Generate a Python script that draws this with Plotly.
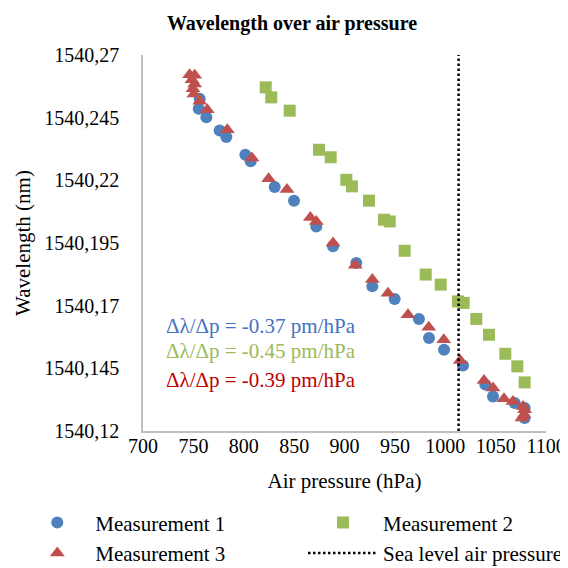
import plotly.graph_objects as go

# Measurement 1 (blue circles)
m1_pressure = [756.3, 755.3, 762.9, 776.1, 782.7, 801.6, 806.9, 830.7, 849.9, 872.0, 888.6, 911.7,
               927.6, 949.8, 973.9, 983.9, 998.8, 1017.6, 1039.8, 1047.4, 1068.9, 1078.8, 1078.8]
m1_wavelength = [1540.2525, 1540.2486, 1540.2452, 1540.2399, 1540.2373, 1540.2302, 1540.2276, 1540.2173,
                 1540.2119, 1540.2016, 1540.1937, 1540.1870, 1540.1777, 1540.1727, 1540.1647, 1540.1571,
                 1540.1524, 1540.1461, 1540.1385, 1540.1338, 1540.1312, 1540.1292, 1540.1252]

# Measurement 2 (green squares)
m2_pressure = [821.8, 827.3, 845.6, 874.7, 886.3, 901.8, 907.4, 924.3, 939.2, 944.9, 959.7, 980.6,
               995.5, 1012.7, 1018.3, 1030.8, 1043.4, 1059.6, 1071.5, 1078.8]
m2_wavelength = [1540.2571, 1540.2531, 1540.2478, 1540.2322, 1540.2292, 1540.2202, 1540.2176, 1540.2119,
                 1540.2043, 1540.2036, 1540.1919, 1540.1824, 1540.1784, 1540.1717, 1540.1711, 1540.1647,
                 1540.1584, 1540.1508, 1540.1458, 1540.1394]

# Measurement 3 (red triangles)
m3_pressure = [746.3, 751.3, 748.6, 751.3, 749.6, 750.6, 756.3, 763.8, 783.7, 808.2, 824.7, 842.9,
               866.1, 872.0, 888.6, 910.7, 927.6, 943.2, 963.0, 983.6, 998.5, 1014.9, 1038.5, 1047.4,
               1058.3, 1067.2, 1077.2, 1078.8, 1078.2, 1076.2]
m3_wavelength = [1540.2621, 1540.2619, 1540.2601, 1540.2584, 1540.2565, 1540.2544, 1540.2515, 1540.2482,
                 1540.2402, 1540.2289, 1540.2206, 1540.2163, 1540.2052, 1540.2036, 1540.1950, 1540.1861,
                 1540.1804, 1540.1750, 1540.1664, 1540.1614, 1540.1564, 1540.1481, 1540.1401, 1540.1372,
                 1540.1329, 1540.1318, 1540.1298, 1540.1285, 1540.1265, 1540.1252]

sea_level_pressure = 1013.25

x_ticks = [700, 750, 800, 850, 900, 950, 1000, 1050, 1100]
y_ticks = [1540.12, 1540.145, 1540.17, 1540.195, 1540.22, 1540.245, 1540.27]
y_tick_labels = ["1540,12", "1540,145", "1540,17", "1540,195", "1540,22", "1540,245", "1540,27"]

slope_labels = ["Δλ/Δp = -0.37 pm/hPa", "Δλ/Δp = -0.45 pm/hPa", "Δλ/Δp = -0.39 pm/hPa"]
slope_colors = ["#4472C4", "#9BBB59", "#C00000"]
slope_y = [1540.1619, 1540.1519, 1540.1403]

FONT = "Liberation Serif, Times New Roman, serif"
BLUE, GREEN, RED = "#4F81BD", "#9BBB59", "#C0504D"

fig = go.Figure()
fig.add_trace(go.Scatter(x=m1_pressure, y=m1_wavelength, mode="markers", name="Measurement 1",
                         marker=dict(symbol="circle", size=12, color=BLUE), legend="legend"))
fig.add_trace(go.Scatter(x=m2_pressure, y=m2_wavelength, mode="markers", name="Measurement 2",
                         marker=dict(symbol="square", size=12, color=GREEN), legend="legend2"))
fig.add_trace(go.Scatter(x=m3_pressure, y=m3_wavelength, mode="markers", name="Measurement 3",
                         marker=dict(symbol="triangle-up", size=13, color=RED), legend="legend"))
fig.add_trace(go.Scatter(x=[sea_level_pressure, sea_level_pressure], y=[y_ticks[0], y_ticks[-1]],
                         mode="lines", name="Sea level air pressure",
                         line=dict(color="black", width=2.5, dash="2.5px,2.5px"), legend="legend2"))

for txt, col, yy in zip(slope_labels, slope_colors, slope_y):
    fig.add_annotation(x=721, y=yy, xref="x", yref="y", text=txt, showarrow=False,
                       xanchor="left", yanchor="middle", font=dict(family=FONT, size=21, color=col))

fig.update_layout(
    width=568, height=568,
    margin=dict(l=135, r=30, t=47, b=145, autoexpand=False),
    paper_bgcolor="white", plot_bgcolor="white",
    font=dict(family=FONT, size=20, color="black"),
    title=dict(text="<b>Wavelength over air pressure</b>", x=0.5, xanchor="center",
               y=1 - 15 / 568, yanchor="middle", font=dict(family=FONT, size=20, color="black")),
    xaxis=dict(range=[700, 1100], tickvals=x_ticks, showgrid=False, zeroline=False,
               showline=True, linecolor="#BFBFBF", linewidth=1.5, ticks="",
               ticklabelstandoff=-4, tickfont=dict(family=FONT, size=20, color="black"),
               title=dict(text="Air pressure (hPa)", standoff=18,
                          font=dict(family=FONT, size=21, color="black"))),
    yaxis=dict(range=[1540.12, 1540.27], tickvals=y_ticks, ticktext=y_tick_labels,
               showgrid=False, zeroline=False,
               showline=True, linecolor="#BFBFBF", linewidth=1.5, ticks="",
               ticklabelstandoff=18, tickfont=dict(family=FONT, size=20, color="black"),
               title=dict(text="Wavelength (nm)", standoff=8,
                          font=dict(family=FONT, size=21, color="black"))),
    legend=dict(x=-0.307, y=-0.19, xanchor="left", yanchor="top", orientation="v",
                itemwidth=66, font=dict(family=FONT, size=21, color="black"),
                bgcolor="rgba(0,0,0,0)", tracegroupgap=0),
    legend2=dict(x=0.397, y=-0.19, xanchor="left", yanchor="top", orientation="v",
                 itemwidth=70, font=dict(family=FONT, size=21, color="black"),
                 bgcolor="rgba(0,0,0,0)", tracegroupgap=0),
    showlegend=True,
)

fig.write_html("out.html")
